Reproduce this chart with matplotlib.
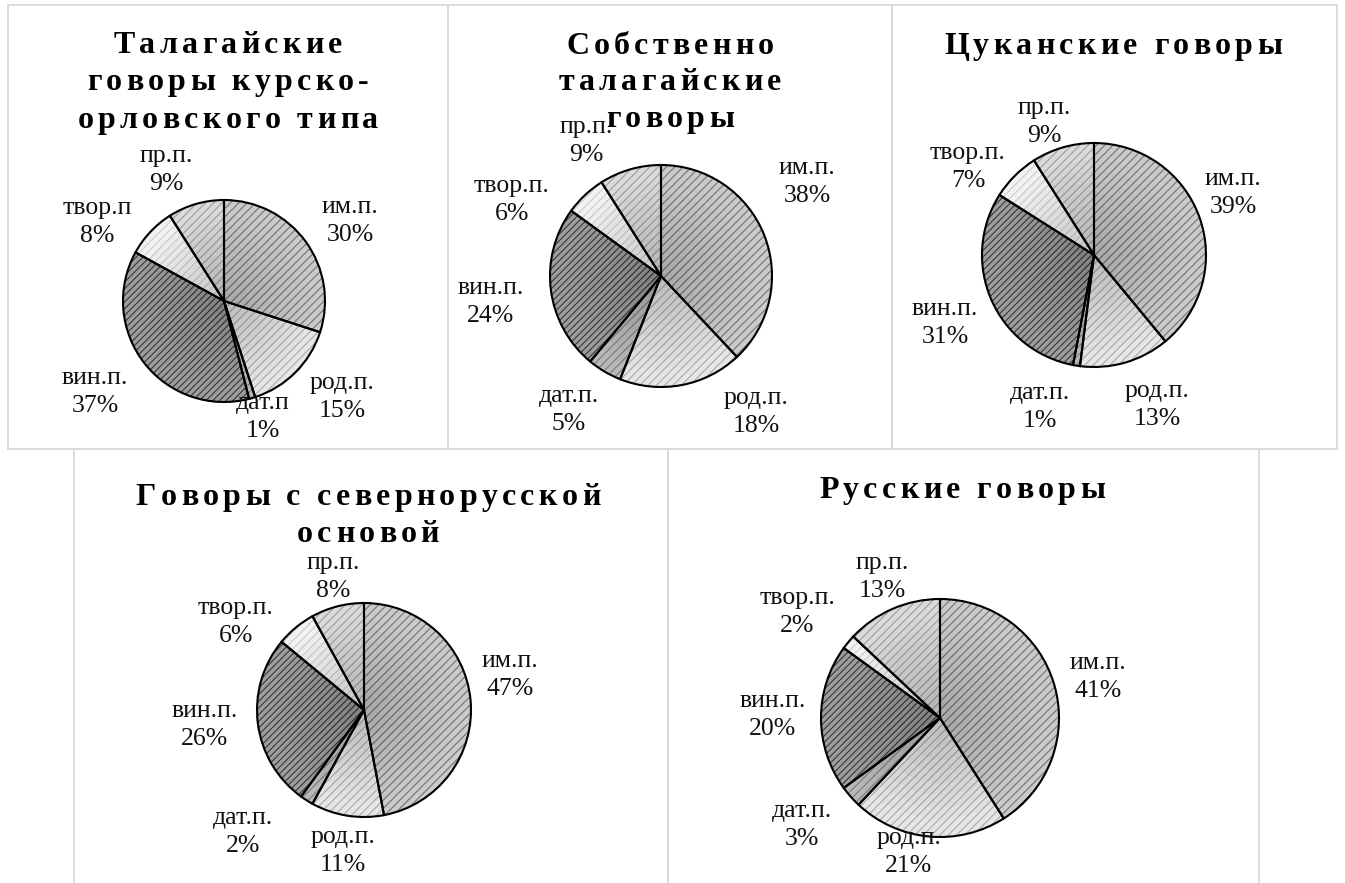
import numpy as np
import matplotlib
matplotlib.use('Agg')
import matplotlib.pyplot as plt
from matplotlib.patches import Rectangle, Circle
from matplotlib.font_manager import FontProperties, findfont
from matplotlib.ft2font import FT2Font
try:
    from matplotlib.ft2font import LoadFlags
    NO_HINT = LoadFlags.NO_HINTING
except ImportError:
    from matplotlib.ft2font import LOAD_NO_HINTING as NO_HINT

# ---------------- data ----------------
cases = ['им.п.', 'род.п.', 'дат.п.', 'вин.п.', 'твор.п.', 'пр.п.']
cases_kursk = ['им.п.', 'род.п.', 'дат.п', 'вин.п.', 'твор.п', 'пр.п.']

title_kursk = ['Талагайские', 'говоры курско-', 'орловского типа']
title_talag = ['Собственно', 'талагайские', 'говоры']
title_tsuk = ['Цуканские говоры']
title_north = ['Говоры с севернорусской', 'основой']
title_rus = ['Русские говоры']

vals_kursk = [30, 15, 1, 37, 8, 9]
vals_talag = [38, 18, 5, 24, 6, 9]
vals_tsuk = [39, 13, 1, 31, 7, 9]
vals_north = [47, 11, 2, 26, 6, 8]
vals_rus = [41, 21, 3, 20, 2, 13]

# ---------------- styles / layout ----------------
W, H, DPI = 1345, 883, 100
face_cols = ['#cbcbcb', '#e6e6e6', '#b8b8b8', '#9e9e9e', '#f2f2f2', '#dbdbdb']
hatch_cols = ['#777777', '#acacac', '#7e7e7e', '#3c3c3c', '#cfcfcf', '#a0a0a0']
hatches = ['////', '////', '////', '/////', '////', '////']

plt.rcParams['hatch.linewidth'] = 0.85

panels = [
    dict(vals=vals_kursk, labels=cases_kursk, title=title_kursk,
         box=(8, 5, 448, 449), pie=(224, 301, 101), tx=228, tbase=[53, 90, 128],
         lpos=[(350, 221), (342, 397), (263, 417), (95, 392), (97, 222), (166, 170)]),
    dict(vals=vals_talag, labels=cases, title=title_talag,
         box=(448, 5, 892, 449), pie=(661, 276, 111), tx=670, tbase=[54, 90, 127],
         lpos=[(807, 182), (756, 412), (569, 410), (491, 302), (512, 200), (586, 141)]),
    dict(vals=vals_tsuk, labels=cases, title=title_tsuk,
         box=(892, 5, 1337, 449), pie=(1094, 255, 112), tx=1113, tbase=[54],
         lpos=[(1233, 193), (1157, 405), (1040, 407), (945, 323), (968, 167), (1044, 122)]),
    dict(vals=vals_north, labels=cases, title=title_north,
         box=(74, 449, 668, 895), pie=(364, 710, 107), tx=368, tbase=[505, 542],
         lpos=[(510, 675), (343, 851), (243, 832), (205, 725), (236, 622), (333, 577)]),
    dict(vals=vals_rus, labels=cases, title=title_rus,
         box=(668, 449, 1259, 895), pie=(940, 718, 119), tx=962, tbase=[498],
         lpos=[(1098, 677), (909, 852), (802, 825), (773, 715), (797, 612), (882, 577)]),
]

title_fp = FontProperties(family='Liberation Serif', weight='bold', size=23)
label_fp = FontProperties(family='Liberation Serif', size=18.5)
TRACK = 4.3  # px letter spacing in titles

_font = FT2Font(findfont(title_fp))
_font.set_size(title_fp.get_size_in_points(), DPI)


def advances(text):
    out = []
    for ch in text:
        g = _font.load_char(ord(ch), flags=NO_HINT)
        out.append(g.linearHoriAdvance / 65536)
    return out


fig = plt.figure(figsize=(W / DPI, H / DPI), dpi=DPI)
fig.patch.set_facecolor('white')
ax = fig.add_axes([0, 0, 1, 1])

for p in panels:
    x0, y0, x1, y1 = p['box']
    ax.add_patch(Rectangle((x0, H - y1), x1 - x0, y1 - y0, fill=False,
                           edgecolor='#d9d9d9', linewidth=1.3, zorder=1))
    cx, cy, r = p['pie']
    center = (cx, H - cy)
    wedges, _ = ax.pie(p['vals'], radius=r, center=center, startangle=90,
                       counterclock=False, colors=face_cols, frame=True,
                       wedgeprops=dict(linewidth=0))
    for w, hc, ht in zip(wedges, hatch_cols, hatches):
        w.set_edgecolor(hc)
        w.set_hatch(ht)
        w.set_zorder(2)
    # radial shading (darker toward the centre)
    for f in np.linspace(0.85, 0.15, 8):
        ax.add_patch(Circle(center, r * f, facecolor=(0, 0, 0, 0.02),
                            edgecolor='none', zorder=3))
    outl, _ = ax.pie(p['vals'], radius=r, center=center, startangle=90,
                     counterclock=False, frame=True,
                     wedgeprops=dict(fill=False, edgecolor='black', linewidth=1.5))
    for w in outl:
        w.set_zorder(4)
    # labels
    for lab, v, (lx, ly) in zip(p['labels'], p['vals'], p['lpos']):
        ax.text(lx, H - ly, f'{lab}\n{v}%', ha='center', va='center',
                multialignment='center', fontproperties=label_fp,
                linespacing=1.35, color='#111111', zorder=6)
    # title with letter spacing
    for line, base in zip(p['title'], p['tbase']):
        adv = advances(line)
        total = sum(adv) + TRACK * (len(line) - 1)
        pen = p['tx'] - total / 2
        for ch, a in zip(line, adv):
            if ch != ' ':
                ax.text(pen + a / 2, H - base, ch, ha='center', va='baseline',
                        fontproperties=title_fp, color='#000000', zorder=5)
            pen += a + TRACK

ax.set_aspect('auto')
ax.set_xlim(0, W)
ax.set_ylim(0, H)
ax.set_autoscale_on(False)
ax.axis('off')

fig.savefig('out.png', dpi=DPI, facecolor='white')
